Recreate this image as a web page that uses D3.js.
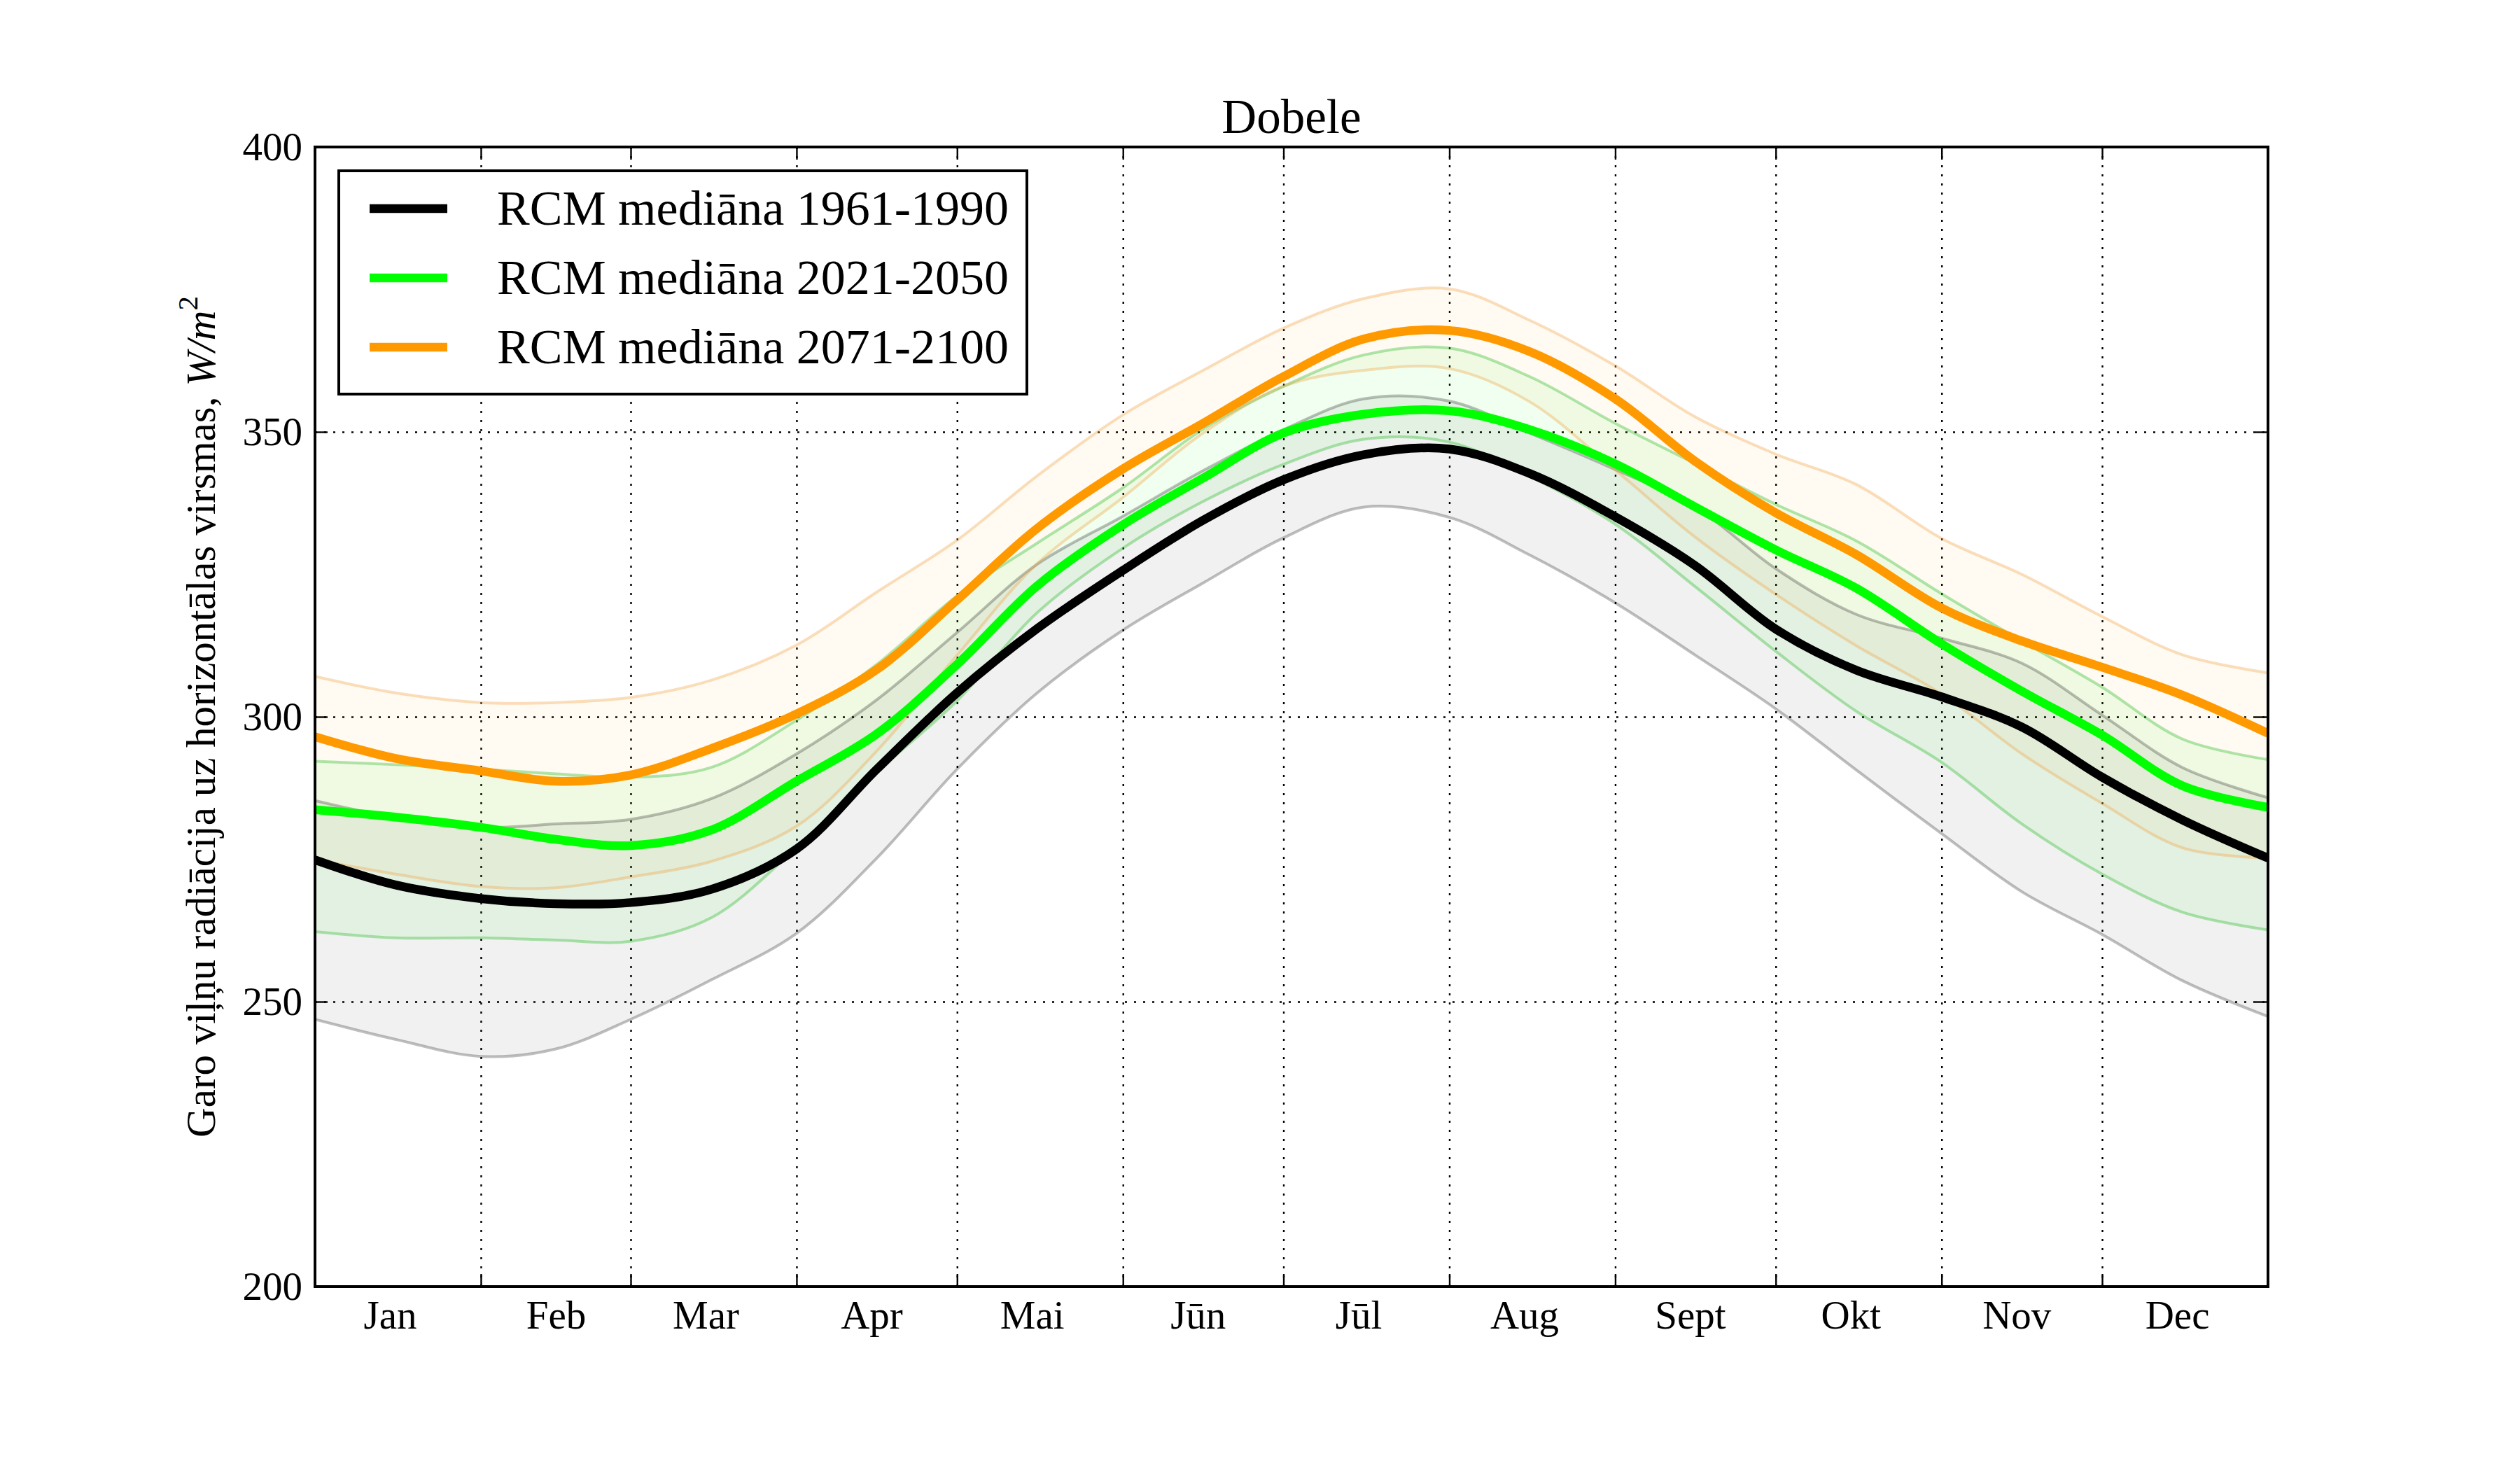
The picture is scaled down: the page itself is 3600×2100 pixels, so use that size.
<!DOCTYPE html>
<html>
<head>
<meta charset="utf-8">
<script src="https://cdn.jsdelivr.net/npm/d3@7"></script>
<style>
  body { margin: 0; background: #fff; }
  text { font-family: "Liberation Serif", "Times New Roman", serif; }
</style>
</head>
<body>
<div id="chart"></div>
<script>
// day of year where each reading was taken
const days = [0, 15, 31, 45, 59, 74, 90, 105, 120, 135, 151, 166, 181, 196, 212, 227, 243, 258, 273, 288, 304, 319, 334, 349, 365];

// 1961-1990
const med1961 = [274.9, 270.5, 268.1, 267.2, 267.4, 269.7, 276.8, 290.8, 304.2, 315.5, 325.7, 334.5, 341.6, 346.0, 347.0, 342.7, 335.1, 326.5, 315.4, 308.2, 303.5, 298.2, 289.4, 281.9, 275.2];
const lo1961 = [246.9, 243.4, 240.4, 241.7, 246.9, 253.8, 262.0, 275.2, 290.8, 304.2, 315.2, 323.5, 331.4, 336.8, 335.0, 328.4, 320.0, 310.8, 301.4, 290.7, 279.5, 269.3, 261.8, 253.7, 247.4];
const hi1961 = [285.3, 282.3, 280.6, 281.2, 282.0, 285.6, 293.5, 303.0, 314.8, 326.8, 335.2, 343.2, 350.4, 355.8, 355.4, 349.8, 343.4, 336.8, 326.0, 318.0, 313.8, 309.4, 300.3, 291.1, 285.8];

// 2021-2050
const med2021 = [283.7, 282.4, 280.6, 278.5, 277.4, 280.1, 288.7, 297.0, 309.2, 323.0, 333.7, 341.9, 349.8, 353.1, 353.7, 350.4, 344.4, 336.8, 329.3, 322.6, 312.8, 304.5, 296.8, 287.9, 284.1];
const lo2021 = [262.3, 261.2, 261.2, 260.8, 260.6, 264.7, 277.0, 290.3, 302.8, 318.3, 329.6, 337.8, 344.3, 348.7, 348.2, 342.2, 333.8, 322.8, 311.5, 301.0, 292.0, 281.2, 272.4, 265.7, 262.6];
const hi2021 = [292.2, 291.6, 290.8, 290.0, 289.4, 291.1, 299.4, 309.2, 321.2, 330.5, 340.2, 350.5, 358.0, 363.5, 364.7, 359.7, 351.5, 344.4, 337.3, 330.9, 321.6, 313.3, 305.2, 296.1, 292.5];

// 2071-2100
const med2071 = [296.5, 292.7, 290.5, 288.7, 289.8, 294.4, 300.5, 308.3, 320.5, 333.1, 343.5, 351.5, 359.7, 366.3, 367.8, 364.1, 355.8, 344.8, 335.8, 328.5, 319.1, 313.3, 308.7, 303.8, 297.1];
const lo2071 = [274.9, 272.4, 270.2, 270.0, 271.9, 274.6, 280.8, 294.0, 310.8, 326.9, 338.5, 349.8, 358.0, 360.8, 361.1, 355.3, 343.3, 331.5, 321.5, 312.5, 304.0, 293.5, 284.8, 277.0, 275.2];
const hi2071 = [307.1, 304.2, 302.5, 302.5, 303.4, 306.4, 312.6, 321.9, 331.0, 342.3, 353.0, 360.8, 368.2, 373.4, 375.1, 369.6, 361.6, 352.6, 346.1, 340.8, 331.3, 325.0, 317.6, 310.9, 307.7];

const months = ["Jan", "Feb", "Mar", "Apr", "Mai", "Jūn", "Jūl", "Aug", "Sept", "Okt", "Nov", "Dec"];
const monthStarts = [0, 31, 59, 90, 120, 151, 181, 212, 243, 273, 304, 334, 365];
const yTicks = [200, 250, 300, 350, 400];

const seriesNames = ["RCM mediāna 1961-1990", "RCM mediāna 2021-2050", "RCM mediāna 2071-2100"];

const W = 3600, H = 2100;
const MARGIN = {top: 210, right: 360, bottom: 262, left: 450};
const WIDTH = W - MARGIN.left - MARGIN.right;
const HEIGHT = H - MARGIN.top - MARGIN.bottom;

const series = [
  {name: seriesNames[0], med: med1961, lo: lo1961, hi: hi1961, color: "#000000",
   fill: "#000000", fillOp: 0.055, edge: "#000000", edgeOp: 0.25},
  {name: seriesNames[1], med: med2021, lo: lo2021, hi: hi2021, color: "#00ff00",
   fill: "#00ff00", fillOp: 0.06, edge: "#00b000", edgeOp: 0.3},
  {name: seriesNames[2], med: med2071, lo: lo2071, hi: hi2071, color: "#ff9900",
   fill: "#ff9900", fillOp: 0.05, edge: "#f0a040", edgeOp: 0.35}
];

const svg = d3.select("#chart")
  .append("svg")
    .attr("width", W)
    .attr("height", H)
  .append("g")
    .attr("transform", `translate(${MARGIN.left},${MARGIN.top})`);

const x = d3.scaleLinear().domain([0, 365]).range([0, WIDTH]);
const y = d3.scaleLinear().domain([200, 400]).range([HEIGHT, 0]);

svg.append("clipPath").attr("id", "plotclip")
  .append("rect").attr("width", WIDTH).attr("height", HEIGHT);

// grid
const inner = monthStarts.slice(1, -1);
svg.append("g")
  .attr("class", "grid")
  .attr("transform", `translate(0,${HEIGHT})`)
  .call(d3.axisBottom(x).tickValues(inner).tickSize(-HEIGHT).tickFormat(""));
svg.append("g")
  .attr("class", "grid")
  .call(d3.axisLeft(y).tickValues([250, 300, 350]).tickSize(-WIDTH).tickFormat(""));
svg.selectAll(".grid .domain").remove();
svg.selectAll(".grid line")
  .attr("stroke", "#000")
  .attr("stroke-width", 2.4)
  .attr("stroke-dasharray", "3,10");

// bands, edges, medians
const area = (s) => d3.area()
  .x((d, i) => x(days[i]))
  .y0((d, i) => y(s.lo[i]))
  .y1((d, i) => y(s.hi[i]))
  .curve(d3.curveCatmullRom);
const line = d3.line()
  .x((d, i) => x(days[i]))
  .y(d => y(d))
  .curve(d3.curveCatmullRom);

const plot = svg.append("g").attr("clip-path", "url(#plotclip)");

series.forEach(s => {
  plot.append("path")
    .attr("d", area(s)(days))
    .attr("fill", s.fill)
    .attr("fill-opacity", s.fillOp);
});
series.forEach(s => {
  [s.lo, s.hi].forEach(arr => {
    plot.append("path")
      .attr("d", line(arr))
      .attr("fill", "none")
      .attr("stroke", s.edge)
      .attr("stroke-opacity", s.edgeOp)
      .attr("stroke-width", 4);
  });
});
series.forEach(s => {
  plot.append("path")
    .attr("d", line(s.med))
    .attr("fill", "none")
    .attr("stroke", s.color)
    .attr("stroke-width", 12.5)
    .attr("stroke-linejoin", "round");
});

// ticks (inward, all four sides)
const tickStyle = g => {
  g.select(".domain").remove();
  g.selectAll(".tick line").attr("stroke", "#000").attr("stroke-width", 2.4);
  g.selectAll("text").attr("font-size", 57).attr("fill", "#000")
    .attr("font-family", '"Liberation Serif", serif');
};
svg.append("g").attr("transform", `translate(0,${HEIGHT})`)
  .call(d3.axisBottom(x).tickValues(inner).tickSize(-18).tickFormat(""))
  .call(tickStyle);
svg.append("g")
  .call(d3.axisTop(x).tickValues(inner).tickSize(-18).tickFormat(""))
  .call(tickStyle);
svg.append("g")
  .call(d3.axisLeft(y).tickValues(yTicks).tickSize(-18).tickPadding(18).tickFormat(d3.format("d")))
  .call(tickStyle);
svg.append("g").attr("transform", `translate(${WIDTH},0)`)
  .call(d3.axisRight(y).tickValues(yTicks).tickSize(-18).tickFormat(""))
  .call(tickStyle);

// month labels on the 15th of each month
const labelDays = months.map((m, i) => monthStarts[i] + 14);
svg.append("g").attr("transform", `translate(0,${HEIGHT})`)
  .call(d3.axisBottom(x).tickValues(labelDays).tickSize(0).tickPadding(20)
    .tickFormat((d, i) => months[i]))
  .call(tickStyle);

// frame
svg.append("rect")
  .attr("width", WIDTH)
  .attr("height", HEIGHT)
  .attr("fill", "none")
  .attr("stroke", "#000")
  .attr("stroke-width", 4);

// title
svg.append("text")
  .attr("x", WIDTH / 2)
  .attr("y", -20)
  .attr("text-anchor", "middle")
  .attr("font-size", 69)
  .text("Dobele");

// y label
const ylab = svg.append("text")
  .attr("transform", `translate(-143,${HEIGHT / 2}) rotate(-90)`)
  .attr("text-anchor", "middle")
  .attr("font-size", 59);
ylab.append("tspan").text("Garo viļņu radiācija uz horizontālas virsmas, ");
ylab.append("tspan").attr("font-style", "italic").text("W/m");
ylab.append("tspan").attr("font-size", 41).attr("dy", -25).text("2");

// legend
const legend = svg.append("g").attr("transform", "translate(34,34)");
legend.append("rect")
  .attr("width", 983)
  .attr("height", 319)
  .attr("fill", "#fff")
  .attr("stroke", "#000")
  .attr("stroke-width", 4);
series.forEach((s, i) => {
  const row = legend.append("g").attr("transform", `translate(0,${54 + i * 99})`);
  row.append("line")
    .attr("x1", 44).attr("x2", 155)
    .attr("stroke", s.color)
    .attr("stroke-width", 12.5);
  row.append("text")
    .attr("x", 226)
    .attr("dy", "0.33em")
    .attr("font-size", 70)
    .text(s.name);
});
</script>
</body>
</html>
